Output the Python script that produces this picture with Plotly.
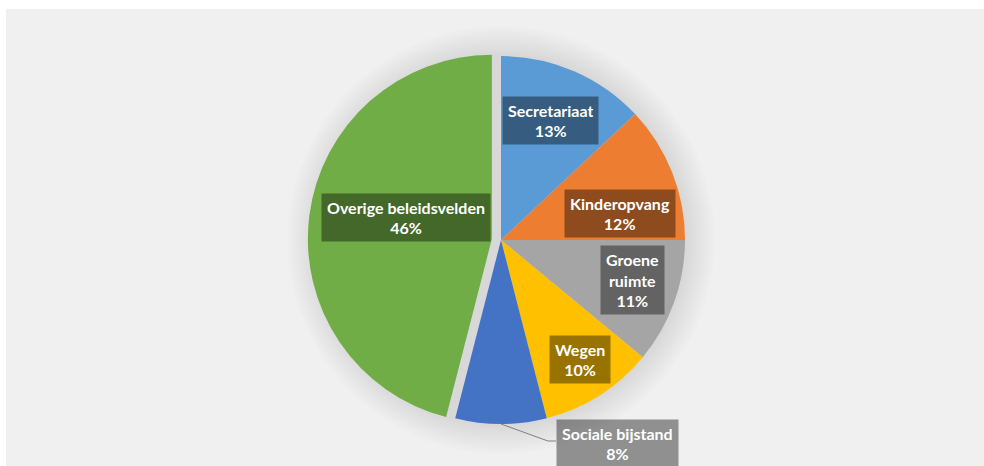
import math
import plotly.graph_objects as go

# ---- data ----
categories = ["Secretariaat", "Kinderopvang", "Groene ruimte", "Wegen",
              "Sociale bijstand", "Overige beleidsvelden"]
values = [13, 12, 11, 10, 8, 46]
label_text = ["Secretariaat", "Kinderopvang", "Groene<br>ruimte", "Wegen",
              "Sociale bijstand", "Overige beleidsvelden"]

# ---- style ----
colors = ["#5B9BD5", "#ED7D31", "#A5A5A5", "#FFC000", "#4472C4", "#70AD47"]
pulls = [0, 0, 0, 0, 0, 0.05]
# label placement relative to slice bisector (radius fraction, angle nudge in deg)
label_rfrac = [0.70, 0.66, 0.745, 0.78, None, 0.48]
label_dang = [-1, 9, -3, -1, 0, 7]

W, H = 984, 466
CX, CY, R = 501, 240, 184
maxpull = max(pulls)
half = R * (1 + maxpull)
FONT = dict(family="Lato", size=16, color="white")

fig = go.Figure(go.Pie(
    labels=categories, values=values, sort=False, direction="clockwise",
    rotation=0, pull=pulls, textinfo="none",
    marker=dict(colors=colors, line=dict(width=0)),
    domain=dict(x=[(CX - half) / W, (CX + half) / W],
                y=[(H - CY - half) / H, (H - CY + half) / H]),
    showlegend=False,
))

shapes = [dict(type="rect", xref="paper", yref="paper", x0=6 / W, x1=1,
               y0=0, y1=1 - 9 / H, fillcolor="#F0F0F0", line=dict(width=0),
               layer="below")]
# soft shadow
for k in range(1, 13):
    rs = R + 2.5 * k
    shapes.append(dict(type="circle", xref="paper", yref="paper",
                       xsizemode="pixel", ysizemode="pixel",
                       xanchor=CX / W, yanchor=1 - CY / H,
                       x0=-rs, x1=rs, y0=-rs, y1=rs,
                       fillcolor="rgba(0,0,0,0.009)", line=dict(width=0),
                       layer="below"))

total = sum(values)
annotations = []
cum = 0
for i, v in enumerate(values):
    a0 = cum / total * 360
    cum += v
    a1 = cum / total * 360
    mid = (a0 + a1) / 2
    pct = f"{round(v / total * 100)}%"
    m = math.radians(mid)
    scx = CX + R * pulls[i] * math.sin(m)
    scy = CY - R * pulls[i] * math.cos(m)
    txt = f"<b>{label_text[i]}<br>{pct}</b>"
    nlines = txt.count("<br>") + 1
    box = dict(xref="paper", yref="paper", text=txt, showarrow=False,
               yanchor="middle", align="center", valign="middle",
               bgcolor="rgba(0,0,0,0.4)", borderpad=5,
               height=nlines * 21 - 5, font=FONT)
    if label_rfrac[i] is not None:
        ang = math.radians(mid + label_dang[i])
        px = scx + R * label_rfrac[i] * math.sin(ang)
        py = scy - R * label_rfrac[i] * math.cos(ang)
        annotations.append(dict(box, x=px / W, y=1 - py / H, xanchor="center"))
    else:
        ex = scx + R * math.sin(m)
        ey = scy - R * math.cos(m)
        bx, by = ex + 55, ey + 19
        shapes.append(dict(type="path", xref="paper", yref="paper",
                           xsizemode="pixel", ysizemode="pixel",
                           xanchor=ex / W, yanchor=1 - ey / H,
                           path=f"M0,0 L{bx - ex - 8},{-(by - ey - 2)} L{bx - ex},{-(by - ey - 2)}",
                           line=dict(color="#7F7F7F", width=1)))
        annotations.append(dict(box, x=bx / W, y=1 - by / H, xanchor="left"))

fig.update_layout(width=W, height=H, margin=dict(l=0, r=0, t=0, b=0),
                  paper_bgcolor="white", plot_bgcolor="white",
                  shapes=shapes, annotations=annotations)
fig.write_html("out.html", config={"displayModeBar": False},
               post_script="document.body.style.margin='0';document.body.style.overflow='hidden';")
